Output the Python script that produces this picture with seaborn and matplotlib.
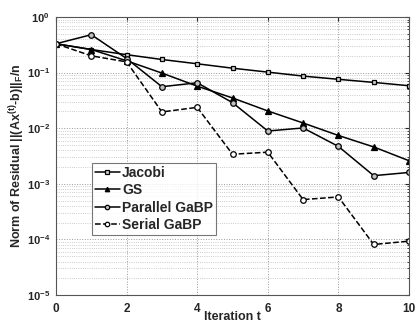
import matplotlib
matplotlib.use('Agg')
import matplotlib.pyplot as plt
import seaborn as sns
import pandas as pd
from matplotlib.ticker import LogLocator, NullFormatter

# Data
iterations = list(range(11))
jacobi = [0.33, 0.26, 0.21, 0.172, 0.144, 0.12, 0.102, 0.0865, 0.0757, 0.0666, 0.058]
gs = [0.33, 0.26, 0.163, 0.098, 0.057, 0.035, 0.0204, 0.0124, 0.0074, 0.0046, 0.0026]
parallel_gabp = [0.33, 0.48, 0.179, 0.0557, 0.0656, 0.0288, 0.0089, 0.0101, 0.0047, 0.0014, 0.0016]
serial_gabp = [0.33, 0.20, 0.156, 0.0196, 0.0237, 0.0034, 0.0037, 0.00052, 0.00058, 0.000081, 0.000093]

series_names = ['Jacobi', 'GS', 'Parallel GaBP', 'Serial GaBP']
series_values = [jacobi, gs, parallel_gabp, serial_gabp]
x_ticks = [0, 2, 4, 6, 8, 10]

sns.set_style('white')
plt.rcParams['font.family'] = ['Liberation Sans', 'DejaVu Sans']
plt.rcParams['font.weight'] = 'bold'
plt.rcParams['mathtext.fontset'] = 'custom'
plt.rcParams['mathtext.rm'] = 'Liberation Sans:bold'
plt.rcParams['mathtext.bf'] = 'Liberation Sans:bold'
plt.rcParams['mathtext.it'] = 'Liberation Sans:bold'
plt.rcParams['mathtext.default'] = 'bf'

df = pd.DataFrame({
    'Iteration': iterations * len(series_names),
    'Residual': [v for vals in series_values for v in vals],
    'Method': [n for n in series_names for _ in iterations],
})

fig = plt.figure(figsize=(4.18, 3.23), dpi=100)
ax = fig.add_axes([0.134, 0.0867, 0.8445, 0.8607])

styles = {
    'Jacobi': dict(marker='s', linestyle='-', mfc='#d0d0d0', ms=3.5),
    'GS': dict(marker='^', linestyle='-', mfc='black', ms=4),
    'Parallel GaBP': dict(marker='o', linestyle='-', mfc='#c0c0c0', ms=4),
    'Serial GaBP': dict(marker='o', linestyle='--', mfc='white', ms=4),
}

for name in series_names:
    st = styles[name]
    sns.lineplot(data=df[df['Method'] == name], x='Iteration', y='Residual',
                 ax=ax, color='black', linewidth=1.1, label=name,
                 marker=st['marker'], linestyle=st['linestyle'],
                 markerfacecolor=st['mfc'], markeredgecolor='black',
                 markeredgewidth=0.9, markersize=st['ms'])

ax.set_yscale('log')
ax.set_ylim(1e-5, 1)
ax.set_xlim(0, 10)
ax.set_xticks(x_ticks)
ax.set_xticklabels([str(t) for t in x_ticks], fontsize=8.5, fontweight='bold')
ax.yaxis.set_major_locator(LogLocator(base=10, numticks=10))
ax.yaxis.set_minor_locator(LogLocator(base=10, subs=range(2, 10), numticks=100))
ax.yaxis.set_minor_formatter(NullFormatter())
for lab in ax.get_yticklabels():
    lab.set_fontsize(8)
    lab.set_fontweight('bold')

ax.grid(True, which='major', axis='both', linestyle=':', color='#999999', linewidth=0.7)
ax.grid(True, which='minor', axis='y', linestyle=':', color='#bbbbbb', linewidth=0.6)
ax.tick_params(which='both', direction='in', top=True, right=True, length=3, pad=4.5)
ax.tick_params(axis='x', pad=6)
ax.tick_params(which='minor', length=1.5)
for sp in ax.spines.values():
    sp.set_color('#555555')
    sp.set_linewidth(0.8)

ax.set_xlabel('Iteration t', fontsize=9, fontweight='bold', labelpad=-3)
ax.set_ylabel('Norm of Residual ||(Ax$^{(t)}$-b)||$_F$/n', fontsize=9,
              fontweight='bold', labelpad=0)

leg = ax.legend(loc='lower left', bbox_to_anchor=(0.102, 0.216), frameon=True,
                fancybox=False, fontsize=10, handlelength=1.8, handletextpad=0.15,
                borderpad=0.2, labelspacing=0.25, borderaxespad=0, markerscale=0.8)
leg.get_frame().set_edgecolor('#555555')
leg.get_frame().set_linewidth(0.8)
for t in leg.get_texts():
    t.set_fontweight('bold')

fig.savefig('out.png', dpi=100)
